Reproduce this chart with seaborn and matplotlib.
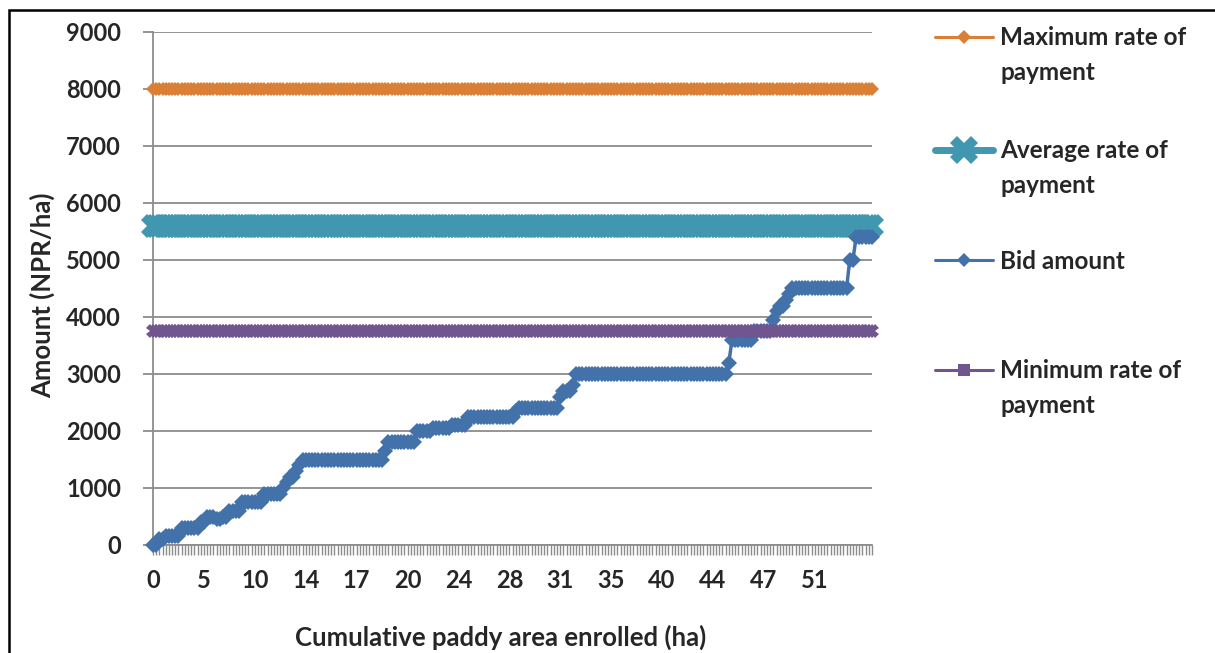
import numpy as np
import pandas as pd
import matplotlib
matplotlib.use("Agg")
import matplotlib.pyplot as plt
from matplotlib.lines import Line2D
from matplotlib.patches import Rectangle
import seaborn as sns

# Bid amounts (NPR/ha) in bid order: each level and the number of plots offered at it
bid_levels = [0, 100, 150, 300, 400, 500, 450, 500, 600, 750,
              900, 1000, 1100, 1200, 1300, 1400, 1500, 1650, 1800, 2000,
              2050, 2100, 2250, 2350, 2400, 2600, 2700, 2800, 3000, 3200,
              3600, 3750, 3950, 4100, 4200, 4300, 4400, 4500, 5000, 5400]
bid_counts = [2, 2, 5, 6, 2, 3, 2, 2, 4, 7,
              6, 1, 1, 2, 1, 1, 26, 1, 9, 5,
              6, 5, 15, 1, 13, 1, 3, 1, 48, 1,
              7, 6, 1, 1, 2, 1, 1, 18, 2, 6]

# Payment rates (NPR/ha)
max_rate = 8000
avg_rate = 5600
min_rate = 3750

# Cumulative paddy area (ha) shown on every 16th plot
area_labels = ["0", "5", "10", "14", "17", "20", "24", "28", "31", "35", "40", "44", "47", "51"]
label_step = 16

series_names = ["Maximum rate of\npayment", "Average rate of\npayment", "Bid amount",
                "Minimum rate of\npayment"]
colors = ["#DA7F36", "#4197AF", "#4372AA", "#70558F"]

bid = np.repeat(bid_levels, bid_counts)
n = len(bid)
df = pd.DataFrame({
    "plot": np.arange(n),
    "max": np.full(n, max_rate),
    "avg": np.full(n, avg_rate),
    "bid": bid,
    "min": np.full(n, min_rate),
})

sns.set_style("white")
plt.rcParams["font.family"] = ["Lato", "DejaVu Sans"]
plt.rcParams["font.weight"] = "bold"

W, H = 1215, 653
fig = plt.figure(figsize=(W / 100, H / 100), dpi=100)
ax = fig.add_axes([153 / W, 1 - 545 / H, 719 / W, 513 / H])

styles = [
    dict(y="max", marker="D", markersize=7, linewidth=4.0),
    dict(y="avg", marker="X", markersize=17, linewidth=3.0),
    dict(y="bid", marker="D", markersize=8, linewidth=2.5),
    dict(y="min", marker="X", markersize=10, linewidth=3.0),
]
for st, c in zip(styles, colors):
    sns.lineplot(data=df, x="plot", y=st["y"], ax=ax, color=c, estimator=None,
                 marker=st["marker"], markersize=st["markersize"],
                 markeredgewidth=0, linewidth=st["linewidth"], clip_on=False,
                 zorder=3)

ax.set_xlim(0, n - 1)
ax.set_ylim(0, 9000)
ax.set_yticks(np.arange(0, 9001, 1000))
ax.set_xticks(np.arange(0, n, label_step)[:len(area_labels)])
ax.set_xticklabels(area_labels)
ax.set_xticks(np.arange(n), minor=True)

grid_c = "#8C8C8C"
ax.yaxis.grid(True, color=grid_c, linewidth=1.3)
ax.xaxis.grid(False)
ax.set_axisbelow(True)
for s in ["top", "right"]:
    ax.spines[s].set_visible(False)
for s in ["left", "bottom"]:
    ax.spines[s].set_color(grid_c)
    ax.spines[s].set_linewidth(1.3)

ax.tick_params(axis="y", which="major", direction="out", length=7, width=1.3,
               color=grid_c, pad=16, labelsize=17, left=True)
ax.tick_params(axis="x", which="both", direction="out", length=7, width=1.0,
               color=grid_c, pad=10, labelsize=17, bottom=True)
for lab in ax.get_xticklabels() + ax.get_yticklabels():
    lab.set_fontweight("bold")

ax.set_xlabel("Cumulative paddy area enrolled (ha)", fontsize=18.5, fontweight="bold",
              va="center")
ax.xaxis.set_label_coords((501 - 153) / 719, (545 - 637) / 513)
ax.set_ylabel("Amount (NPR/ha)", fontsize=18.5, fontweight="bold", va="center")
ax.yaxis.set_label_coords((42 - 153) / 719, (545 - 295) / 513)

# Legend on the right, handle aligned with the first line of each label
handle_y = [37, 150, 260, 370]
legend_ms = [7, 20, 7, 9]
legend_mk = ["D", "X", "D", "s"]
for name, c, hy, ms, mk in zip(series_names, colors, handle_y, legend_ms, legend_mk):
    fig.add_artist(Line2D([935 / W, 993 / W], [1 - hy / H, 1 - hy / H], color=c,
                          linewidth=2.2 if mk != "X" else 5, transform=fig.transFigure))
    fig.add_artist(Line2D([964 / W], [1 - hy / H], color=c, marker=mk, markersize=ms,
                          markeredgewidth=0, transform=fig.transFigure))
    # baseline of the last line of the label
    n_lines = name.count("\n") + 1
    base_y = hy + 9 + 34 * (n_lines - 1)
    fig.text(1000 / W, 1 - base_y / H, name, fontsize=17.5, fontweight="bold",
             va="baseline", ha="left", linespacing=1.65)

# Chart frame
fig.add_artist(Rectangle((9 / W, -0.2), 1.5, 1.2 - 10 / H, fill=False,
                         edgecolor="black", linewidth=1.8, transform=fig.transFigure))

fig.savefig("out.png", dpi=100)
